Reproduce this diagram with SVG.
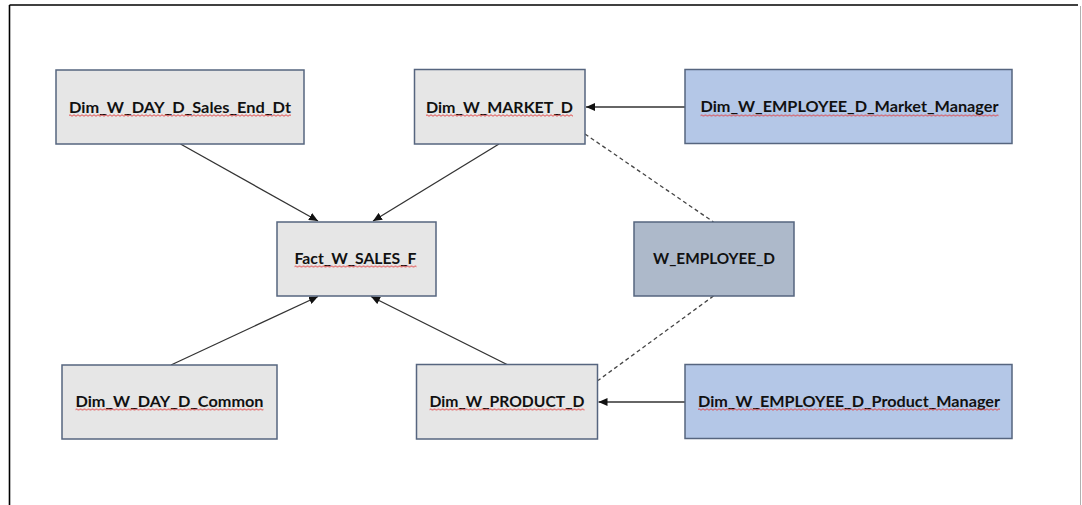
<svg xmlns="http://www.w3.org/2000/svg" width="1082" height="505" viewBox="0 0 1082 505">
<style>
.box{stroke:#56657f;stroke-width:1.5}
.gray{fill:#e6e6e6}
.blue{fill:#b4c7e7}
.slate{fill:#adb9ca}
.lbl{font-family:Lato,"Liberation Sans",Arial,sans-serif;font-weight:bold;font-size:16px;fill:#111;text-anchor:middle}
.sq{fill:url(#wave)}
.conn{stroke:#333;stroke-width:1.3;fill:none}
.dash{stroke:#444;stroke-width:1.3;fill:none;stroke-dasharray:4 3}
</style>
<defs>
<marker id="arr" markerUnits="userSpaceOnUse" markerWidth="9" markerHeight="8" refX="9" refY="4" orient="auto">
<path d="M0,0 L9,4 L0,8 z" fill="#111"/>
</marker>
<pattern id="wave" patternUnits="userSpaceOnUse" width="4" height="3">
<path d="M0,1.5 Q1,0 2,1.5 Q3,3 4,1.5" fill="none" stroke="#e23a3a" stroke-width="0.9"/>
</pattern>
</defs>
<rect width="1082" height="505" fill="#fff"/>
<g id="frame">
<line x1="9.5" y1="5" x2="1078" y2="5" stroke="#000" stroke-width="1.6"/>
<line x1="9.5" y1="5" x2="9.5" y2="505" stroke="#000" stroke-width="1.6"/>
<line x1="1080.5" y1="6" x2="1080.5" y2="505" stroke="#b0b0b0" stroke-width="1"/>
</g>
<g id="connectors">
<line class="conn" x1="180.5" y1="144" x2="318" y2="221" marker-end="url(#arr)"/>
<line class="conn" x1="499" y1="144" x2="373" y2="221" marker-end="url(#arr)"/>
<line class="conn" x1="171" y1="365" x2="318" y2="296.5" marker-end="url(#arr)"/>
<line class="conn" x1="507" y1="364.5" x2="371" y2="296.5" marker-end="url(#arr)"/>
<line class="conn" x1="685" y1="107" x2="586" y2="107" marker-end="url(#arr)"/>
<line class="conn" x1="685" y1="402" x2="598.5" y2="402" marker-end="url(#arr)"/>
<line class="dash" x1="585" y1="134" x2="713.5" y2="222"/>
<line class="dash" x1="713.5" y1="296" x2="598" y2="380.5"/>
</g>
<g id="dim_day_sales_end_dt">
<rect class="box gray" x="56" y="70" width="248" height="74"/>
<text class="lbl" x="180" y="112.5" textLength="222" lengthAdjust="spacingAndGlyphs">Dim_W_DAY_D_Sales_End_Dt</text>
<rect class="sq" x="0" y="0" width="222" height="3" transform="translate(69,114)"/>
</g>
<g id="dim_market">
<rect class="box gray" x="414.5" y="69.5" width="170.5" height="74.5"/>
<text class="lbl" x="499.5" y="112.5" textLength="147" lengthAdjust="spacingAndGlyphs">Dim_W_MARKET_D</text>
<rect class="sq" x="0" y="0" width="147" height="3" transform="translate(426,114)"/>
</g>
<g id="dim_employee_market_manager">
<rect class="box blue" x="685" y="69.5" width="327" height="74"/>
<text class="lbl" x="849.5" y="111.5" textLength="298" lengthAdjust="spacingAndGlyphs">Dim_W_EMPLOYEE_D_Market_Manager</text>
<rect class="sq" x="0" y="0" width="298" height="3" transform="translate(700.5,114)"/>
</g>
<g id="fact_sales">
<rect class="box gray" x="277" y="222" width="159" height="74"/>
<text class="lbl" x="355.5" y="263.5" textLength="122" lengthAdjust="spacingAndGlyphs">Fact_W_SALES_F</text>
<rect class="sq" x="0" y="0" width="122" height="3" transform="translate(294.5,265)"/>
</g>
<g id="w_employee">
<rect class="box slate" x="634" y="222" width="160" height="74"/>
<text class="lbl" x="714" y="263.5" textLength="122" lengthAdjust="spacingAndGlyphs">W_EMPLOYEE_D</text>
</g>
<g id="dim_day_common">
<rect class="box gray" x="62" y="365" width="215" height="74"/>
<text class="lbl" x="169.5" y="406.5" textLength="188" lengthAdjust="spacingAndGlyphs">Dim_W_DAY_D_Common</text>
<rect class="sq" x="0" y="0" width="188" height="3" transform="translate(75.5,408)"/>
</g>
<g id="dim_product">
<rect class="box gray" x="416.5" y="364.5" width="181" height="74.5"/>
<text class="lbl" x="507" y="406.5" textLength="155" lengthAdjust="spacingAndGlyphs">Dim_W_PRODUCT_D</text>
<rect class="sq" x="0" y="0" width="155" height="3" transform="translate(429.5,408)"/>
</g>
<g id="dim_employee_product_manager">
<rect class="box blue" x="685" y="364.5" width="327" height="74"/>
<text class="lbl" x="849" y="406.5" textLength="302" lengthAdjust="spacingAndGlyphs">Dim_W_EMPLOYEE_D_Product_Manager</text>
<rect class="sq" x="0" y="0" width="302" height="3" transform="translate(698,408)"/>
</g>
</svg>
